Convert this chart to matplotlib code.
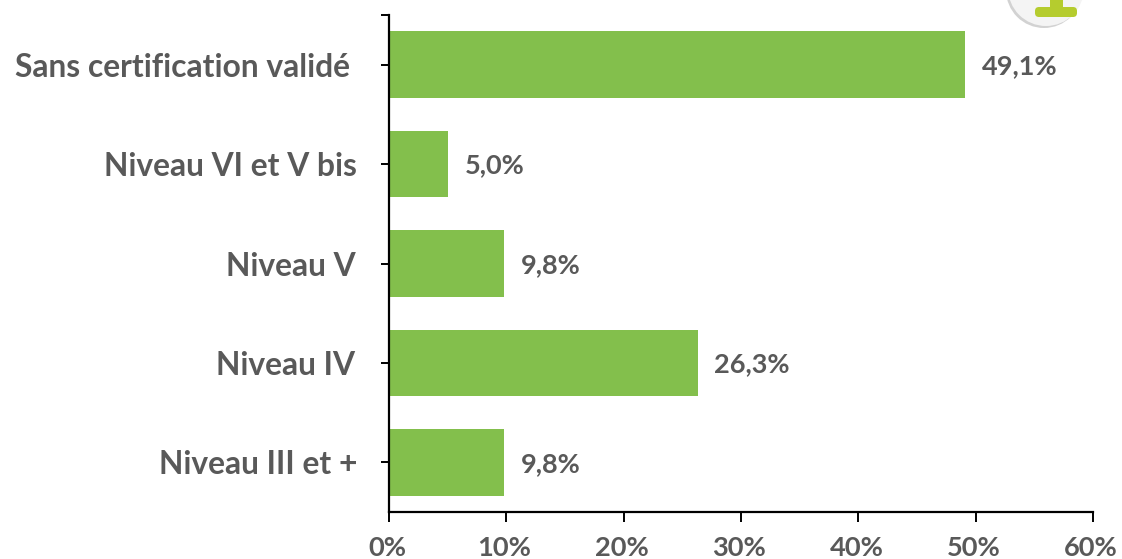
import matplotlib
matplotlib.use("Agg")
import matplotlib.pyplot as plt
from matplotlib.patches import Circle, Rectangle, FancyBboxPatch
from matplotlib.transforms import ScaledTranslation

categories = ["Sans certification validé ", "Niveau VI et V bis", "Niveau V\u200a", "Niveau IV\u200a", "Niveau III et +"]
values = [49.1, 5.0, 9.8, 26.3, 9.8]
value_labels = ["49,1%", "5,0%", "9,8%", "26,3%", "9,8%"]
xticks = [0, 10, 20, 30, 40, 50, 60]
xtick_labels = ["0%", "10%", "20%", "30%", "40%", "50%", "60%"]

GREEN = "#83bf4c"
GREY = "#595959"
W, H = 1122, 559

plt.rcParams["font.family"] = ["Lato", "DejaVu Sans"]
plt.rcParams["font.weight"] = "bold"

fig = plt.figure(figsize=(W / 100, H / 100), dpi=100)
ax = fig.add_axes([389 / W, 1 - 512 / H, (1093 - 389) / W, (512 - 15) / H])

y = list(range(len(categories)))
ax.barh(y, values, height=0.67, color=GREEN, edgecolor="none", zorder=2)
ax.set_xlim(0, 60)
ax.set_ylim(len(categories) - 0.5, -0.5)

ax.set_xticks(xticks)
ax.set_xticklabels(xtick_labels, fontsize=19.6, color=GREY, fontweight="bold")
ax.set_yticks(y)
ax.set_yticklabels(categories, fontsize=22.9, color=GREY, fontweight="bold", va="center_baseline")
ax.set_yticks([-0.5], minor=True)
ax.tick_params(axis="x", length=7.5, width=1.4, color="black", pad=10)
ax.tick_params(axis="y", which="both", length=5.8, width=1.4, color="black", pad=17)

shift = ScaledTranslation(-2 / 100, 0, fig.dpi_scale_trans)
for lab in ax.get_xticklabels():
    lab.set_transform(lab.get_transform() + shift)

for side in ("top", "right"):
    ax.spines[side].set_visible(False)
for side in ("left", "bottom"):
    ax.spines[side].set_linewidth(1.6)
    ax.spines[side].set_color("black")

for yi, v, lab in zip(y, values, value_labels):
    ax.annotate(lab, (v, yi), xytext=(12, -1), textcoords="offset points",
                va="center", ha="left", fontsize=19.5, color=GREY, fontweight="bold")

# Decorative badge cut off at the top right corner
overlay = fig.add_axes([0, 0, 1, 1], facecolor="none")
overlay.set_xlim(0, W)
overlay.set_ylim(H, 0)
overlay.axis("off")
overlay.add_patch(Circle((1044, -10), 38, facecolor="#d2d2d2", edgecolor="none"))
overlay.add_patch(Circle((1046, -12), 38, facecolor="#f4f4f4", edgecolor="none"))
overlay.add_patch(Rectangle((1050, -5), 13, 16, facecolor="#b5cc2e", edgecolor="none"))
overlay.add_patch(FancyBboxPatch((1039, 11), 34, 2, boxstyle="round,pad=4", facecolor="#b5cc2e", edgecolor="none"))

fig.savefig("out.png", dpi=100)
